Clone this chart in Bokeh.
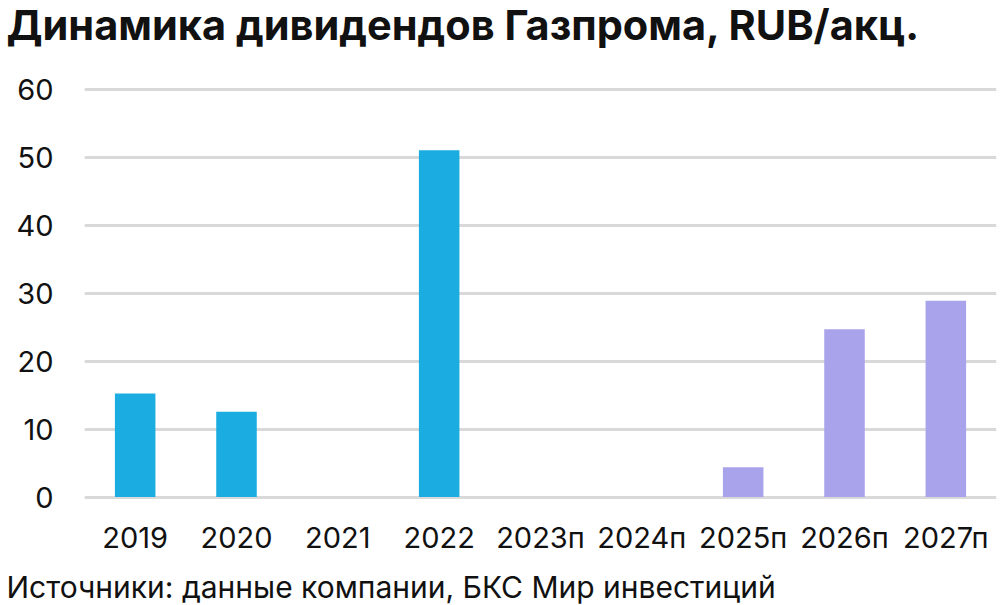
from bokeh.plotting import figure
from bokeh.layouts import column
from bokeh.models import Range1d, FixedTicker, Title, ColumnDataSource
from bokeh.embed import file_html
from bokeh.resources import INLINE

categories = ["2019", "2020", "2021", "2022", "2023п", "2024п", "2025п", "2026п", "2027п"]
dividends = [15.24, 12.55, 0.0, 51.03, 0.0, 0.0, 4.4, 24.7, 28.9]
is_forecast = [False, False, False, False, True, True, True, True, True]
y_ticks = [0, 10, 20, 30, 40, 50, 60]

title_text = "Динамика дивидендов Газпрома, RUB/акц."
source_text = "Источники: данные компании, БКС Мир инвестиций"

ACTUAL = "#1BADE2"
FORECAST = "#A9A3EB"
TEXT = "#111111"
FONT = "Inter"
W = 1000
LEFT = 84


def text_strip(height, frame_h, text, size, style, standoff):
    f = figure(width=W, height=height, x_range=Range1d(0, 1), y_range=Range1d(0, 1),
               output_backend="svg", toolbar_location=None,
               x_axis_location=None, y_axis_location=None,
               min_border_left=LEFT, min_border_right=4,
               min_border_top=0, min_border_bottom=height - frame_h)
    f.title = None
    f.outline_line_color = None
    f.grid.grid_line_color = None
    f.add_layout(Title(text=text, text_font=FONT, text_font_size=size,
                       text_font_style=style, text_color=TEXT, align="left",
                       offset=6 - LEFT, standoff=standoff), "below")
    return f


head = text_strip(50, 2, title_text, "41.5px", "bold", -9)

colors = [FORECAST if f else ACTUAL for f in is_forecast]
src = ColumnDataSource(dict(cat=categories, val=dividends, color=colors))

p = figure(width=W, height=510, x_range=categories, y_range=Range1d(-0.5, 65.7),
           output_backend="svg", toolbar_location=None,
           min_border_left=LEFT, min_border_right=4, min_border_top=0, min_border_bottom=60)
p.x_range.range_padding = 0
p.vbar(x="cat", top="val", width=0.4, fill_color="color", line_color=None, source=src)

p.outline_line_color = None
p.xgrid.grid_line_color = None
p.ygrid.grid_line_color = "#D9D9D9"
p.ygrid.grid_line_width = 3
p.yaxis.ticker = FixedTicker(ticks=y_ticks)
for ax in (p.xaxis, p.yaxis):
    ax.axis_line_color = None
    ax.major_tick_line_color = None
    ax.minor_tick_line_color = None
    ax.major_tick_out = 0
    ax.major_tick_in = 0
    ax.major_label_text_font = FONT
    ax.major_label_text_font_size = "29px"
    ax.major_label_text_color = TEXT
p.yaxis.major_label_standoff = 31
p.xaxis.major_label_standoff = 19

foot = text_strip(45, 6, source_text, "30px", "normal", 0)

layout = column(head, p, foot, spacing=0)
open("out.html", "w").write(file_html(layout, INLINE))
